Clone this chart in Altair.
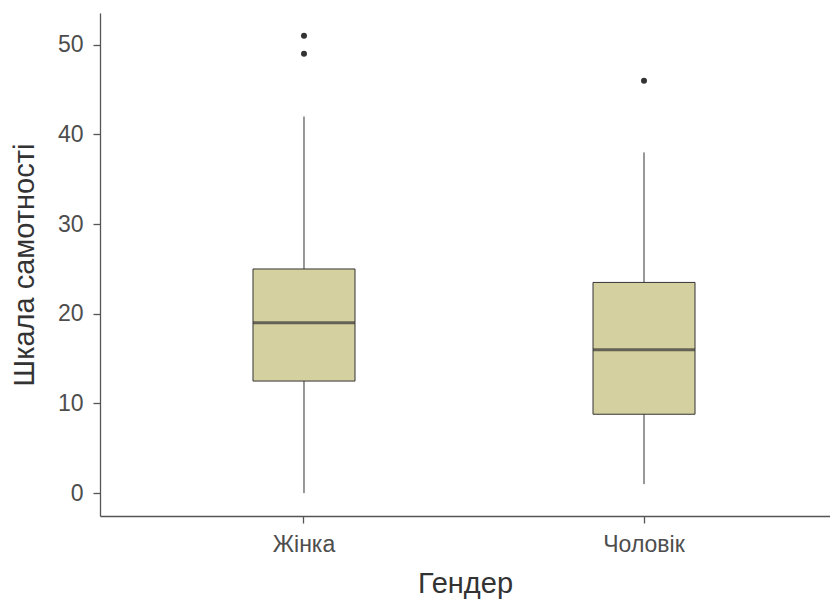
import altair as alt
import pandas as pd

genders = ["Жінка", "Чоловік"]
lower = [0, 1]
q1 = [12.5, 8.8]
median = [19, 16]
q3 = [25, 23.5]
upper = [42, 38]

out_gender = ["Жінка", "Жінка", "Чоловік"]
out_value = [49, 51, 46]

y_ticks = [0, 10, 20, 30, 40, 50]

box_df = pd.DataFrame({"g": genders, "lo": lower, "q1": q1, "med": median, "q3": q3, "hi": upper})
out_df = pd.DataFrame({"g": out_gender, "v": out_value})

FONT = "Liberation Sans"

xscale = alt.Scale(domain=genders, paddingInner=0, paddingOuter=0.0735, align=0.68)
yscale = alt.Scale(domain=[-2.55, 53.55], nice=False, zero=False)

xenc = alt.X("g:N", scale=xscale, sort=genders,
             axis=alt.Axis(title="Гендер", labelAngle=0))

base = alt.Chart(box_df)

whisk = base.mark_rule(color="#333333", strokeWidth=1).encode(
    x=xenc,
    y=alt.Y("lo:Q", scale=yscale,
            axis=alt.Axis(title="Шкала самотності", values=y_ticks)),
    y2="hi:Q",
)

box = base.mark_bar(size=102, fill="#D4D0A0", stroke="#333333", strokeWidth=1).encode(
    x=xenc,
    y=alt.Y("q1:Q", scale=yscale),
    y2="q3:Q",
)

med = base.mark_tick(size=102, thickness=3, color="#333333").encode(
    x=xenc,
    y=alt.Y("med:Q", scale=yscale),
)

pts = alt.Chart(out_df).mark_circle(size=36, color="#333333", opacity=1).encode(
    x=xenc,
    y=alt.Y("v:Q", scale=yscale),
)

chart = alt.layer(whisk, box, med, pts).properties(
    width=730, height=503,
    autosize=alt.AutoSizeParams(type="none"),
    padding={"left": 92, "top": 5, "right": 0, "bottom": 87},
).configure_view(stroke=None).configure_axis(
    grid=False,
    domainColor="#555555",
    domainWidth=1.3,
    tickColor="#555555",
    tickSize=7,
    tickWidth=1.3,
    labelFont=FONT,
    labelFontSize=23,
    labelColor="#4D4D4D",
    titleFont=FONT,
    titleFontSize=29,
    titleColor="#333333",
    titleFontWeight="normal",
).configure_axisY(
    labelPadding=10,
    titlePadding=18,
).configure_axisX(
    labelPadding=10,
    titlePadding=13,
)

chart.save("out.html", embed_options={"renderer": "svg", "actions": False})
